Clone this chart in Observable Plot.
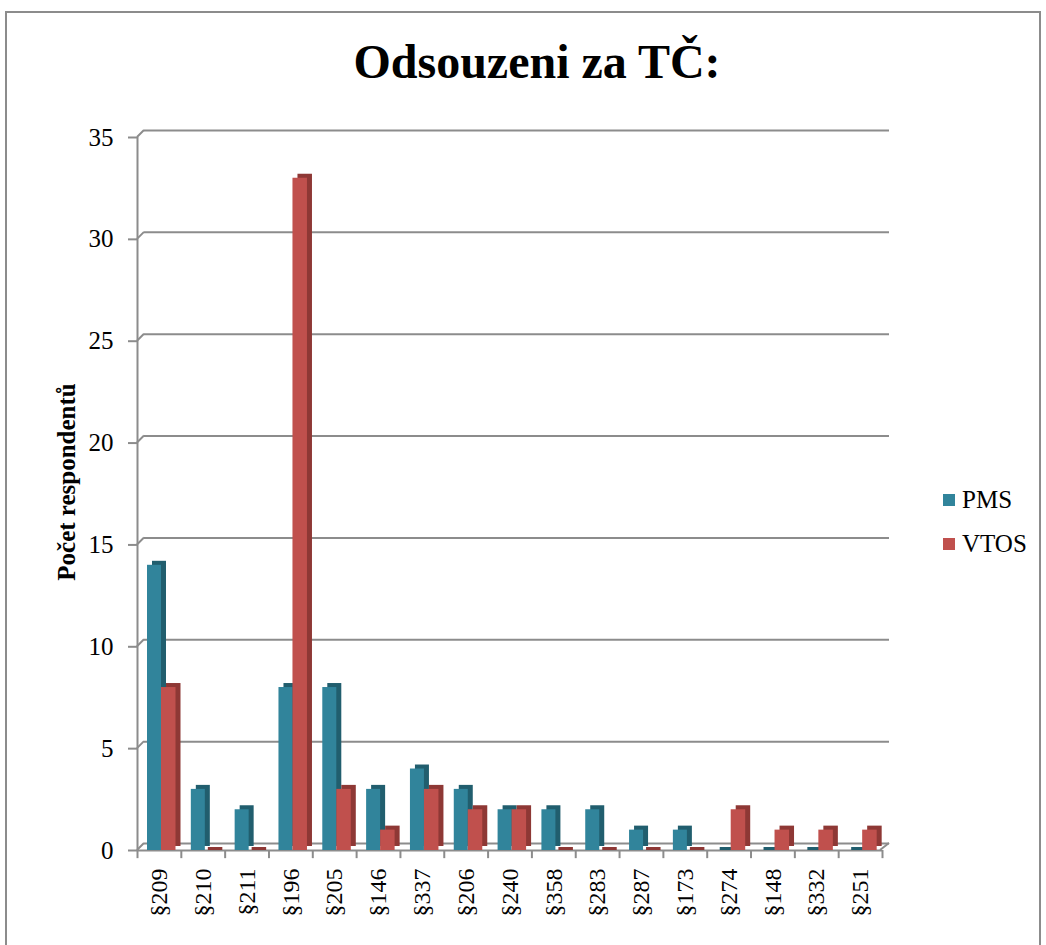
<!DOCTYPE html>
<html><head><meta charset="utf-8">
<script src="https://cdn.jsdelivr.net/npm/d3@7"></script>
<script src="https://cdn.jsdelivr.net/npm/@observablehq/plot@0.6"></script>
<style>
body{margin:0;background:#fff;font-family:"Liberation Serif","Times New Roman",serif;}
#wrap{position:relative;width:1046px;height:945px;overflow:hidden;background:#fff}
#frame{position:absolute;left:5px;top:11px;width:1036px;height:1000px;border:2px solid #8c8c8c;box-sizing:border-box}
#title{position:absolute;left:0;top:37px;width:1074px;text-align:center;font-weight:bold;font-size:48px;line-height:50px;white-space:nowrap}
#chart{position:absolute;left:0;top:0}
.leg{position:absolute;left:943px;font-size:25px;line-height:28px;display:flex;align-items:center}
.leg span.sw{display:inline-block;width:12px;height:12px;margin-right:7px}
</style>
</head><body>
<div id="wrap">
  <div id="frame"></div>
  <div id="title">Odsouzeni za TČ:</div>
  <div id="chart"></div>
  <div id="legend"></div>
</div>
<script>
const categories = ["§209","§210","§211","§196","§205","§146","§337","§206","§240","§358","§283","§287","§173","§274","§148","§332","§251"];
const series = ["PMS","VTOS"];
const pmsValues  = [14,3,2,8,8,3,4,3,2,2,2,1,1,0,0,0,0];
const vtosValues = [8,0,0,33,3,1,3,2,2,0,0,0,0,2,1,1,1];
const yTicks = [0,5,10,15,20,25,30,35];
const yLabel = "Počet respondentů";

const colors = {PMS:"#31849B", VTOS:"#C0504D"};
const dark = {PMS:"#215E6E", VTOS:"#8E3835"};
const gridColor = "#8c8c8c";

const W = 1046, H = 945, mL = 137, mR = 164, mT = 137, mB = 95;
const bw = (W - mL - mR) / categories.length;

const rows = [];
categories.forEach((c, i) => {
  rows.push({cat: c, series: "PMS", value: pmsValues[i]});
  rows.push({cat: c, series: "VTOS", value: vtosValues[i]});
});
const pmsRows = rows.filter(d => d.series === "PMS");
const vtosRows = rows.filter(d => d.series === "VTOS");
const inset = {
  PMS: {insetLeft: 10, insetRight: bw - 24},
  VTOS: {insetLeft: 24, insetRight: bw - 38.5}
};

function diagonals(index, scales, values, dims) {
  const g = d3.create("svg:g").attr("stroke", gridColor).attr("stroke-width", 2).attr("fill", "none");
  for (const t of yTicks) {
    const y = scales.y(t);
    g.append("line").attr("x1", dims.marginLeft).attr("y1", y).attr("x2", dims.marginLeft + 7).attr("y2", y - 7);
  }
  const y0 = scales.y(0), xr = dims.width - dims.marginRight;
  g.append("line").attr("x1", xr - 2).attr("y1", y0).attr("x2", xr + 7).attr("y2", y0 - 7);
  return g.node();
}

const barMarks = [];
for (const [s, data] of [["PMS", pmsRows], ["VTOS", vtosRows]]) {
  barMarks.push(Plot.barY(data.filter(d => d.value > 0), {x: "cat", y: "value", fill: dark[s], dx: 5, dy: -4, ...inset[s]}));
  barMarks.push(Plot.barY(data.filter(d => d.value === 0), {x: "cat", y: "value", fill: dark[s], dx: 3, insetTop: -3, ...inset[s]}));
}
for (const [s, data] of [["PMS", pmsRows], ["VTOS", vtosRows]]) {
  barMarks.push(Plot.barY(data, {x: "cat", y: "value", fill: colors[s], ...inset[s]}));
}

const chart = Plot.plot({
  width: W, height: H,
  marginLeft: mL, marginRight: mR, marginTop: mT, marginBottom: mB,
  style: {fontFamily: '"Liberation Serif","Times New Roman",serif', fontSize: "24px", color: "#000", background: "transparent"},
  x: {domain: categories, padding: 0, round: false, label: null},
  y: {domain: [0, 35], label: null},
  marks: [
    Plot.ruleY(yTicks, {stroke: gridColor, strokeWidth: 2, dx: 7, dy: -7}),
    Plot.ruleY([0], {stroke: gridColor, strokeWidth: 2}),
    diagonals,
    Plot.ruleX([categories[0]], {dx: -bw / 2, y1: 0, y2: 35, stroke: gridColor, strokeWidth: 2}),
    Plot.ruleX(categories, {dx: -bw / 2, y1: 0, y2: -0.4, stroke: gridColor, strokeWidth: 2}),
    Plot.ruleX([categories[categories.length - 1]], {dx: bw / 2, y1: 0, y2: -0.4, stroke: gridColor, strokeWidth: 2}),
    ...barMarks,
    Plot.axisY(yTicks, {tickSize: 9, tickPadding: 15, stroke: gridColor, strokeWidth: 2, fontSize: 25, fill: "#000", label: null}),
    Plot.axisX({tickSize: 0, tickPadding: 18, tickRotate: -90, fontSize: 24, fill: "#000", label: null}),
    Plot.text([yLabel], {frameAnchor: "left", textAnchor: "middle", dx: -71, dy: -12, rotate: -90, fontWeight: "bold", fontSize: 25, fill: "#000"})
  ]
});
document.getElementById("chart").appendChild(chart);

const legend = document.getElementById("legend");
series.forEach((s, i) => {
  const el = document.createElement("div");
  el.className = "leg";
  el.style.top = (486 + i * 44) + "px";
  el.innerHTML = `<span class="sw" style="background:${colors[s]}"></span>${s}`;
  legend.appendChild(el);
});
</script>
</body></html>
